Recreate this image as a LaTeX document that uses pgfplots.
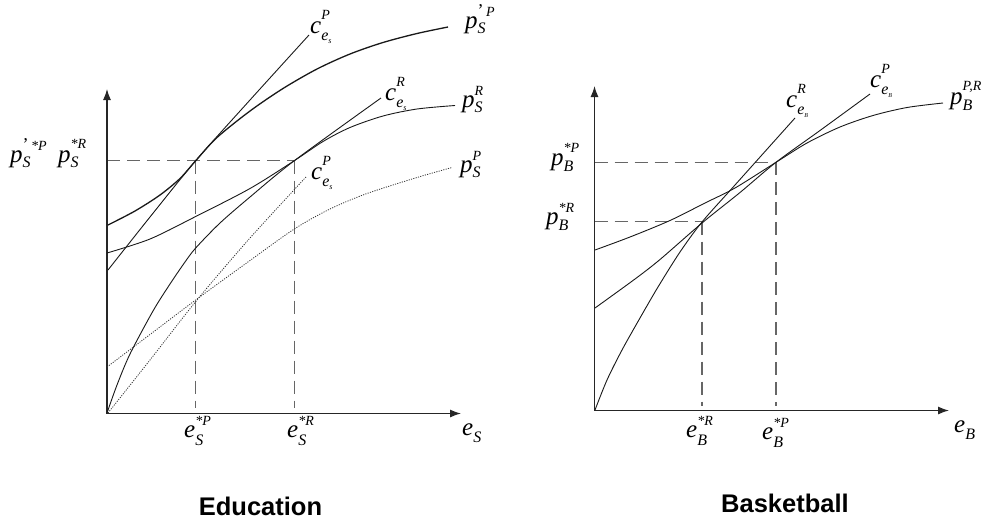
\documentclass[border=0pt]{standalone}
\usepackage{fontspec}
\setmainfont{Liberation Serif}
\newfontfamily\arialf{Liberation Sans}
\usepackage{pgfplots}
\pgfplotsset{compat=1.18}
\usetikzlibrary{arrows.meta}

% label: {sup raise}{sub lower}{base}{sup}{sub}
\newcommand\sy[5]{{\fontsize{25}{25}\selectfont\itshape #3\rlap{\raisebox{#1}{\fontsize{14}{14}\selectfont #4}}\raisebox{-#2}{\fontsize{16}{16}\selectfont #5}}}
\newcommand\es{e\raisebox{-3pt}{\fontsize{8}{8}\selectfont s}}
\newcommand\eb{e\raisebox{-3pt}{\fontsize{6}{6}\selectfont B}}
\newcommand\pr{{\fontsize{18}{18}\selectfont\upshape ’}\,}

\begin{document}
\begin{tikzpicture}
\begin{axis}[width=986pt,height=523pt,scale only axis,
  xmin=0,xmax=986,ymin=0,ymax=523,y dir=reverse,hide axis,clip=false]
\pgfplotsset{
  cur/.style={line width=0.9pt,color=black!90,smooth,no markers},
  dot/.style={line width=0.8pt,color=black!80,smooth,no markers,dash pattern=on 1.1pt off 1.3pt},
  dsh/.style={line width=1.1pt,color=black!60,no markers,dash pattern=on 13pt off 7pt},
  ax/.style={line width=1.2pt,color=black!85,no markers,-{Latex[length=11pt,width=8pt]}}
}
\addplot[draw=none,no markers] coordinates {(0,0) (986,523)};

% ---------------- Education ----------------
\addplot[dsh] coordinates {(107,160.7) (294.3,160.7)};
\addplot[dsh] coordinates {(195.7,160.7) (195.7,408)};
\addplot[dsh] coordinates {(294.3,160.7) (294.3,408)};
\addplot[ax] coordinates {(107,413.5) (107,89)};
\addplot[ax] coordinates {(107,413.5) (461,413.5)};

% p'_S^P
\addplot[cur,line width=1.3pt] coordinates {(108,225) (135,211) (160,195) (180,178.5) (195.7,160.7) (217,137.5) (250,111) (283,88.5) (317,69) (350,54) (383,42.5) (417,33.5) (448,27)};
% c_eS^P
\addplot[cur] coordinates {(108,270) (150,217) (195.7,160.7) (250,100) (309,35)};
% p_S^R
\addplot[cur] coordinates {(107,253) (150,239) (195.7,216.5) (250,188.5) (294.3,160.7) (323,141.5) (350,127.5) (383,116) (417,109) (455,105.5)};
% c_eS^R
\addplot[cur] coordinates {(107,413) (117,385) (130,354) (153,311) (170,284) (185,262) (195.7,248) (220,223) (250,197) (294.3,160.7) (381,98)};
% p_S^P dotted
\addplot[dot] coordinates {(107,367) (150,334.5) (197,299) (250,260.5) (294.3,229) (330,209) (367,193.5) (417,177.5) (452,167.5)};
% c_eS^P dotted
\addplot[dot] coordinates {(108,413) (150,360) (197,300) (250,238) (306,177)};

\node[anchor=base west,inner sep=0] at (axis cs:310,33) {\sy{14pt}{7pt}{c}{P}{\es}};
\node[anchor=base west,inner sep=0] at (axis cs:465,28.5) {\sy{12pt}{5pt}{p}{\pr P}{S}};
\node[anchor=base west,inner sep=0] at (axis cs:385,100) {\sy{14pt}{7pt}{c}{R}{\es}};
\node[anchor=base west,inner sep=0] at (axis cs:462,107.5) {\sy{12pt}{5pt}{p}{R}{S}};
\node[anchor=base west,inner sep=0] at (axis cs:311,179) {\sy{14pt}{7pt}{c}{P}{\es}};
\node[anchor=base west,inner sep=0] at (axis cs:460,172) {\sy{12pt}{5pt}{p}{P}{S}};
\node[anchor=base west,inner sep=0] at (axis cs:10,162) {\sy{12pt}{5pt}{p}{\pr *P}{S}};
\node[anchor=base west,inner sep=0] at (axis cs:58,162) {\sy{14pt}{5pt}{p}{*R}{S}};
\node[anchor=base west,inner sep=0] at (axis cs:184,437) {\sy{12pt}{8pt}{e}{*P}{S}};
\node[anchor=base west,inner sep=0] at (axis cs:287,437) {\sy{12pt}{8pt}{e}{*R}{S}};
\node[anchor=base west,inner sep=0] at (axis cs:462,435) {\sy{10pt}{7pt}{e}{}{S}};
\node[font=\arialf\bfseries\fontsize{25.5}{25.5}\selectfont] at (axis cs:260.5,506) {Education};

% ---------------- Basketball ----------------
\addplot[dsh] coordinates {(594.5,162.3) (776,162.3)};
\addplot[dsh] coordinates {(594.5,221.7) (702,221.7)};
\addplot[dsh] coordinates {(702,221.7) (702,406)};
\addplot[dsh] coordinates {(776,162.3) (776,406)};
\addplot[ax] coordinates {(594.5,410.5) (594.5,86)};
\addplot[ax] coordinates {(594.5,410.5) (949,410.5)};

% p_B^{P,R}
\addplot[cur] coordinates {(595,250) (630,237) (670,220.5) (705,203) (735,188) (776,162.3) (807,143) (840,127) (873,115.5) (907,107.5) (943,103)};
% c_eB^P
\addplot[cur] coordinates {(595,308) (635,279) (660,259.5) (702,223) (740,192.5) (776,162.3) (820,130.5) (870,94)};
% c_eB^R
\addplot[cur] coordinates {(595,410) (607,380) (622,350) (640,318) (658,287) (680,252) (702,222) (735,185) (795,118)};

\node[anchor=base west,inner sep=0] at (axis cs:786,107) {\sy{14pt}{7pt}{c}{R}{\eb}};
\node[anchor=base west,inner sep=0] at (axis cs:870,87) {\sy{14pt}{7pt}{c}{P}{\eb}};
\node[anchor=base west,inner sep=0] at (axis cs:950,104) {\sy{14pt}{6pt}{p}{P,R}{B}};
\node[anchor=base west,inner sep=0] at (axis cs:551,165) {\sy{13pt}{6pt}{p}{*P}{B}};
\node[anchor=base west,inner sep=0] at (axis cs:546,224) {\sy{12pt}{6pt}{p}{*R}{B}};
\node[anchor=base west,inner sep=0] at (axis cs:686,437) {\sy{12pt}{8pt}{e}{*R}{B}};
\node[anchor=base west,inner sep=0] at (axis cs:762,439) {\sy{12pt}{8pt}{e}{*P}{B}};
\node[anchor=base west,inner sep=0] at (axis cs:954,432) {\sy{10pt}{7pt}{e}{}{B}};
\node[font=\arialf\bfseries\fontsize{25.5}{25.5}\selectfont] at (axis cs:785,503) {Basketball};
\end{axis}
\end{tikzpicture}
\end{document}
